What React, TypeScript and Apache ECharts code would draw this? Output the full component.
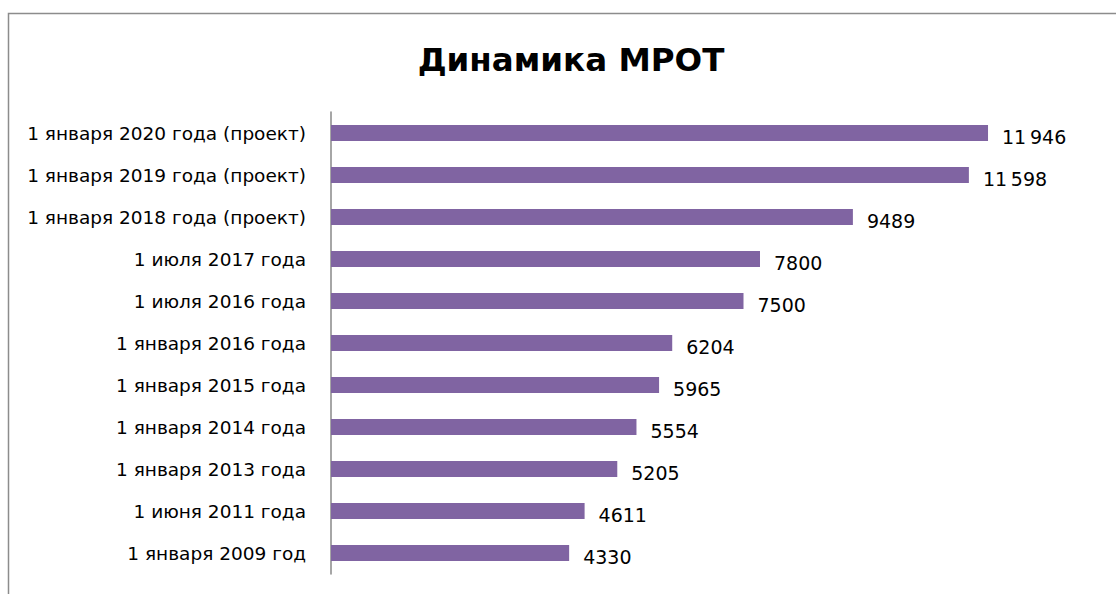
import React, { useEffect, useRef } from "react";
import * as echarts from "echarts";

const categories = [
  "1 января 2009 год",
  "1 июня 2011 года",
  "1 января 2013 года",
  "1 января 2014 года",
  "1 января 2015 года",
  "1 января 2016 года",
  "1 июля 2016 года",
  "1 июля 2017 года",
  "1 января 2018 года (проект)",
  "1 января 2019 года (проект)",
  "1 января 2020 года (проект)",
];
const values = [4330, 4611, 5205, 5554, 5965, 6204, 7500, 7800, 9489, 11598, 11946];
const titleText = "Динамика МРОТ";

function fmt(v: number): string {
  if (v >= 10000) {
    const s = String(v);
    return s.slice(0, s.length - 3) + "\u2009" + s.slice(s.length - 3);
  }
  return String(v);
}

export default function App() {
  const ref = useRef<HTMLDivElement>(null);
  useEffect(() => {
    if (!ref.current) return;
    const chart = echarts.init(ref.current, undefined, { renderer: "svg" });
    chart.setOption({
      animation: false,
      backgroundColor: "#ffffff",
      title: {
        text: titleText,
        left: 566,
        textAlign: "center",
        top: 38,
        textStyle: { fontFamily: "DejaVu Sans", fontWeight: "bold", fontSize: 32.5, color: "#000" },
      },
      graphic: [
        {
          type: "rect",
          shape: { x: 8.5, y: 13.5, width: 1300, height: 800 },
          style: { fill: "none", stroke: "#8c8c8c", lineWidth: 1.5 },
          z: 10,
        },
      ],
      grid: { left: 331, top: 112, width: 770, height: 462, containLabel: false },
      xAxis: {
        type: "value",
        min: 0,
        max: 14000,
        show: false,
      },
      yAxis: {
        type: "category",
        data: categories,
        axisLine: { show: true, lineStyle: { color: "#888", width: 1.5 } },
        axisTick: { show: false },
        axisLabel: {
          margin: 25,
          fontFamily: "DejaVu Sans",
          fontSize: 18.5,
          color: "#000",
        },
      },
      series: [
        {
          type: "bar",
          data: values,
          barWidth: 16,
          itemStyle: { color: "#8064A2" },
          label: {
            show: true,
            position: "right",
            distance: 14,
            offset: [0, 4],
            fontFamily: "DejaVu Sans",
            fontSize: 19,
            color: "#000",
            formatter: (p: any) => fmt(p.value),
          },
        },
      ],
    });
    return () => chart.dispose();
  }, []);
  return <div ref={ref} style={{ position: "fixed", left: 0, top: 0, width: 1116, height: 594 }} />;
}
